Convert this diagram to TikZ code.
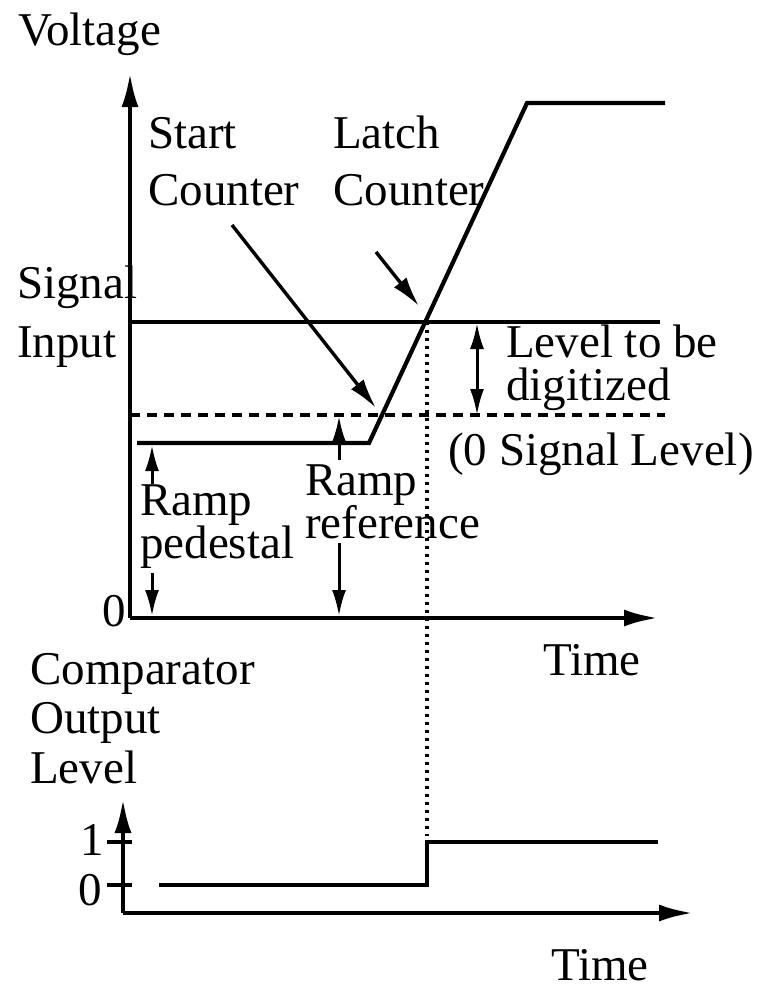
\documentclass[tikz,border=0pt]{standalone}
\usepackage{fontspec}
\setmainfont{Liberation Serif}
\usetikzlibrary{arrows.meta}
\begin{document}
\begin{tikzpicture}[x=1pt,y=-1pt,
  lbl/.style={anchor=base west,inner sep=0pt,font=\fontsize{47}{52}\selectfont},
  thick line/.style={line width=4.2pt},
  axis/.style={line width=4.2pt,-{Latex[length=34pt,width=17pt]}},
  pointer/.style={line width=3.4pt,-{Latex[length=30pt,width=16pt]}},
  mtip/.tip={Latex[length=26pt,width=14pt]},
  measure/.style={line width=3pt,-mtip},
  dashline/.style={line width=3.6pt,dash pattern=on 10pt off 7pt},
  dotline/.style={line width=3.4pt,dash pattern=on 3pt off 5pt}]
\useasboundingbox (0,0) rectangle (762,989);
% coordinates, upper plot
\coordinate (O) at (130,618);
\coordinate (Ytop) at (130,73);
\coordinate (Xend) at (658,618);
\coordinate (SigL) at (130,322);
\coordinate (SigR) at (660,322);
\coordinate (DashL) at (130,415);
\coordinate (DashR) at (665,415);
\coordinate (PedL) at (137,443);
\coordinate (PedR) at (369,443);
\coordinate (RampTop) at (527,103);
\coordinate (TopR) at (665,103);
\coordinate (Cross) at (427,322);
% axes
\draw[axis] (O) -- (Ytop);
\draw[axis] (O) -- (Xend);
% signal input
\draw[thick line] (SigL) -- (SigR);
% zero signal level
\draw[dashline] (DashL) -- (DashR);
% ramp
\draw[thick line,line join=miter] (PedL) -- (PedR) -- (RampTop) -- (TopR);
% pointers
\coordinate (StartA) at (232,225);
\coordinate (StartB) at (376,408);
\coordinate (LatchA) at (376,252);
\coordinate (LatchB) at (419,306);
\draw[pointer] (StartA) -- (StartB);
\draw[pointer] (LatchA) -- (LatchB);
% level to be digitized
\coordinate (LvT) at (477,323);
\coordinate (LvB) at (477,415);
\draw[measure,mtip-mtip] (LvT) -- (LvB);
% ramp pedestal
\coordinate (PdU1) at (152,484);
\coordinate (PdU2) at (152,445);
\coordinate (PdD1) at (152,573);
\coordinate (PdD2) at (152,616);
\draw[measure] (PdU1) -- (PdU2);
\draw[measure] (PdD1) -- (PdD2);
% ramp reference
\coordinate (RfU1) at (339,460);
\coordinate (RfU2) at (339,416);
\coordinate (RfD1) at (339,543);
\coordinate (RfD2) at (339,616);
\draw[measure] (RfU1) -- (RfU2);
\draw[measure] (RfD1) -- (RfD2);
% lower plot
\coordinate (O2) at (123,913);
\coordinate (Y2top) at (123,799);
\coordinate (X2end) at (693,913);
\coordinate (T1L) at (107,842);
\coordinate (T1R) at (132,842);
\coordinate (T0L) at (107,885);
\coordinate (T0R) at (132,885);
\coordinate (C0) at (159,885);
\coordinate (Cstep) at (427,885);
\coordinate (Cup) at (427,842);
\coordinate (Cend) at (658,842);
\coordinate (DotEnd) at (427,836);
\draw[axis] (O2) -- (Y2top);
\draw[axis] (O2) -- (X2end);
\draw[line width=3.6pt] (T1L) -- (T1R);
\draw[line width=3.6pt] (T0L) -- (T0R);
\draw[line width=3.6pt,line join=miter] (C0) -- (Cstep) -- (Cup) -- (Cend);
\draw[dotline] (Cross) -- (DotEnd);
% labels
\node[lbl] (voltage) at (18,45) {Voltage};
\node[lbl] (start) at (148,148) {Start};
\node[lbl] (startc) at (148,205) {Counter};
\node[lbl] (latch) at (333,148) {Latch};
\node[lbl] (latchc) at (333,205) {Counter};
\node[lbl] (signal) at (17,298) {Signal};
\node[lbl] (input) at (17,357) {Input};
\node[lbl] (level) at (506,357) {Level to be};
\node[lbl] (digit) at (506,400) {digitized};
\node[lbl] (zero) at (448,465) {(0 Signal Level)};
\node[lbl] (rp) at (140,515) {Ramp};
\node[lbl] (ped) at (140,558) {pedestal};
\node[lbl] (rr) at (305,495) {Ramp};
\node[lbl] (ref) at (305,538) {reference};
\node[lbl] (z1) at (102,626) {0};
\node[lbl] (time1) at (543,675) {Time};
\node[lbl] (comp) at (30,684) {Comparator};
\node[lbl] (out) at (30,733) {Output};
\node[lbl] (lev) at (30,783) {Level};
\node[lbl] (one) at (80,855) {1};
\node[lbl] (z2) at (78,905) {0};
\node[lbl] (time2) at (551,980) {Time};
\end{tikzpicture}
\end{document}
